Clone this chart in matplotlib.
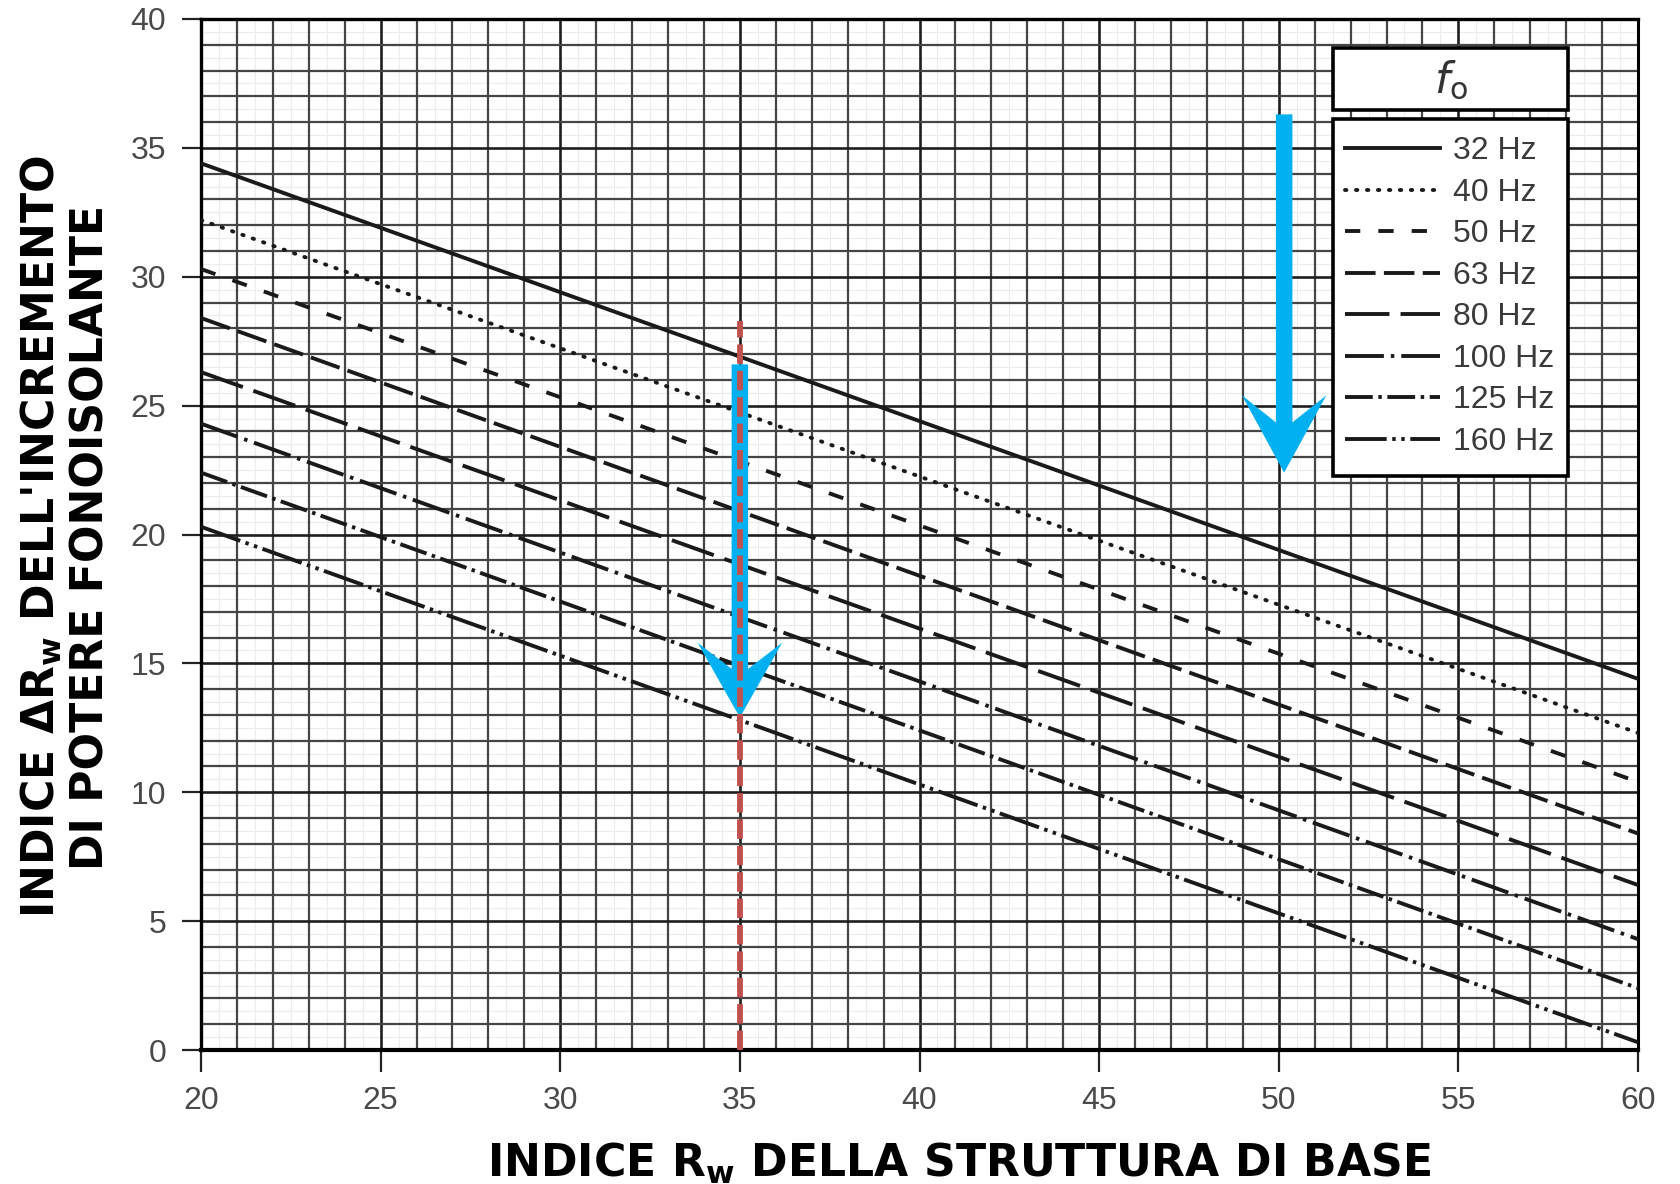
import matplotlib.pyplot as plt
import numpy as np
from matplotlib.patches import FancyArrow, Rectangle

plt.rcParams['lines.scale_dashes'] = False

# Rw of the base structure at the two ends of the chart
rw_ends = [20, 60]
freq_labels = ["32 Hz", "40 Hz", "50 Hz", "63 Hz", "80 Hz", "100 Hz", "125 Hz", "160 Hz"]
delta_at_20 = [34.4, 32.2, 30.3, 28.4, 26.3, 24.3, 22.4, 20.3]
delta_at_60 = [14.4, 12.3, 10.4, 8.4, 6.4, 4.3, 2.4, 0.3]

# worked example: reading at Rw = 35
example_rw = 35
example_line_y = [0, 28.3]
example_arrow_y = [26.6, 12.9]
# arrow next to the legend
side_arrow_rw = 50.15
side_arrow_y = [36.3, 22.4]

line_styles = ['-', (0, (1.0, 6.9)), (0, (11, 13)), (0, (22, 6)), (0, (32, 8)),
               (0, (28, 5, 2.5, 5)), (0, (20, 4, 2.5, 4)), (0, (30, 4, 2.5, 4, 2.5, 4))]

fig = plt.figure(figsize=(16.81, 11.84), dpi=100)
ax = fig.add_axes([201 / 1681, 1 - 1050 / 1184, 1437 / 1681, 1031 / 1184])

ax.set_xlim(20, 60)
ax.set_ylim(0, 40)
ax.set_xticks(range(20, 61, 5))
ax.set_xticks(np.arange(20, 61, 1), minor=True)
ax.set_yticks(range(0, 41, 5))
ax.set_yticks(np.arange(0, 41, 1), minor=True)

# half-unit faint lines, unit lines and heavier lines every 5
for v in np.arange(20.5, 60, 1):
    ax.axvline(v, color='#ececec', lw=0.8, zorder=0)
for v in np.arange(0.5, 40, 1):
    ax.axhline(v, color='#ececec', lw=0.8, zorder=0)
ax.grid(which='minor', color='#454545', lw=1.6, zorder=0.5)
ax.grid(which='major', color='#1e1e1e', lw=1.9, zorder=0.6)
ax.set_axisbelow(True)

for i, lab in enumerate(freq_labels):
    ls = line_styles[i]
    ax.plot(rw_ends, [delta_at_20[i], delta_at_60[i]], color='#1a1a1a', lw=2.8,
            linestyle=ls, dash_capstyle='round' if i == 1 else 'butt',
            label=lab, zorder=3)

for side in ['left', 'top', 'bottom', 'right']:
    ax.spines[side].set_color('black')
ax.spines['left'].set_linewidth(2.4)
ax.spines['top'].set_linewidth(2.4)
ax.spines['bottom'].set_linewidth(3.0)
ax.spines['right'].set_linewidth(2.2)

ax.tick_params(which='minor', length=0)
ax.tick_params(axis='y', which='major', direction='out', length=14, width=1.6,
               color='#222222', labelsize=23, labelcolor='#4a4a4a', pad=11)
ax.tick_params(axis='x', which='major', direction='out', length=16, width=1.6,
               color='#222222', labelsize=23, labelcolor='#4a4a4a', pad=10)
for t in ax.get_yticklabels() + ax.get_xticklabels():
    t.set_family('Liberation Sans')

# reading example and arrows
ax.add_patch(FancyArrow(example_rw, example_arrow_y[0], 0, example_arrow_y[1] - example_arrow_y[0],
                        width=0.46, head_width=2.35, head_length=2.9, overhang=0.35,
                        length_includes_head=True, color='#00b0f0', lw=0, zorder=6))
ax.plot([example_rw, example_rw], example_line_y, color='#c0504d', lw=4.2,
        linestyle=(0, (14, 5)), zorder=7)
ax.add_patch(FancyArrow(side_arrow_rw, side_arrow_y[0], 0, side_arrow_y[1] - side_arrow_y[0],
                        width=0.46, head_width=2.35, head_length=3.0, overhang=0.35,
                        length_includes_head=True, color='#00b0f0', lw=0, zorder=6))

# legend: title box above a separate box holding the entries
ax.add_patch(Rectangle((0.788, 0.912), 0.163, 0.060, transform=ax.transAxes,
                       facecolor='white', edgecolor='black', lw=2.6, zorder=8))
ax.text(0.8695, 0.940, r'$f_{\mathrm{o}}$', transform=ax.transAxes, ha='center', va='center',
        fontsize=31, color='#333333', zorder=9)
ax.add_patch(Rectangle((0.788, 0.557), 0.163, 0.346, transform=ax.transAxes,
                       facecolor='white', edgecolor='black', lw=2.6, zorder=8))
leg = ax.legend(loc='upper left', bbox_to_anchor=(0.788, 0.897), frameon=False,
                prop={'family': 'Liberation Sans', 'size': 23}, handlelength=3.0,
                handletextpad=0.4, labelspacing=0.36, borderpad=0.35, borderaxespad=0)
leg.set_zorder(9)
for t in leg.get_texts():
    t.set_color('#3a3a3a')

# axis titles
fig.text(959 / 1681, 1 - 1177 / 1184, r"INDICE R$_{\mathregular{w}}$ DELLA STRUTTURA DI BASE",
         ha='center', va='baseline', fontsize=31.8, fontweight='bold', family='DejaVu Sans')
fig.text(41 / 1681, 1 - 537 / 1184, r"INDICE ΔR$_{\mathregular{w}}$ DELL'INCREMENTO",
         ha='center', va='center', rotation=90, fontsize=31.8, fontweight='bold', family='DejaVu Sans')
fig.text(91 / 1681, 1 - 537 / 1184, "DI POTERE FONOISOLANTE",
         ha='center', va='center', rotation=90, fontsize=31.8, fontweight='bold', family='DejaVu Sans')

fig.savefig('out.png', dpi=100)
